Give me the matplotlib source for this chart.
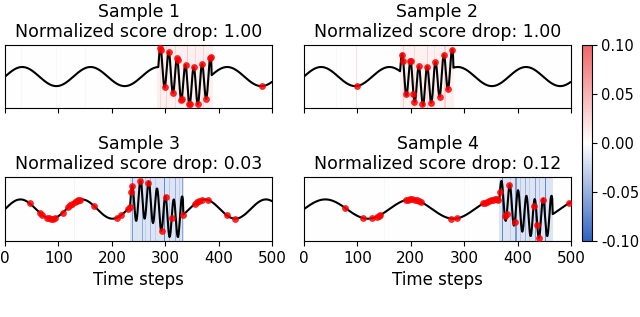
import numpy as np
import matplotlib
matplotlib.use("Agg")
import matplotlib.pyplot as plt
from matplotlib.colors import LinearSegmentedColormap

plt.rcParams['axes.unicode_minus'] = False

# values
n_steps = 500
sample_names = ["Sample 1", "Sample 2", "Sample 3", "Sample 4"]
score_drops = [1.00, 1.00, 0.03, 0.12]

# slow sine of each sample (period in steps) and the fast burst segment
base_periods = [128, 128, 115, 160]
burst_starts = [287, 180, 234, 366]
burst_len = 100
burst_period = 15.6
burst_amp = 2.0

# red dots: time steps that were marked
dots_1 = [291, 292, 299, 307, 314, 322, 323, 330, 331, 338, 345, 346, 353, 361, 369, 377, 384, 385, 481]
dots_2 = [99, 183, 186, 191, 199, 200, 205, 207, 215, 222, 231, 238, 246, 254, 262, 270, 277]
dots_3 = [46, 66, 70, 78, 82, 86, 90, 94, 108, 118, 122, 126, 130, 134, 137, 140, 167, 209, 218,
          231, 234, 236, 238, 253, 268, 293, 301, 312, 334, 356, 360, 364, 368, 381, 415, 431]
dots_4 = [77, 111, 127, 136, 140, 142, 192, 195, 199, 203, 208, 212, 216, 220, 276, 286, 336, 339,
          342, 346, 350, 354, 358, 361, 364, 367, 376, 380, 385, 395, 430, 437, 440, 447, 497]

# attribution stripes behind the curve: (start, end, value)
stripes_1 = [(30, 31, -0.004), (95, 97, 0.006), (150, 152, -0.004), (230, 231, 0.004), (285, 389, 0.01),
             (290, 292, 0.025), (297, 298, 0.02), (301, 303, 0.03), (312, 313, 0.02), (319, 321, 0.025),
             (333, 334, 0.02), (341, 343, 0.035), (350, 351, 0.02), (356, 358, 0.025), (371, 373, 0.03),
             (380, 381, 0.02)]
stripes_2 = [(60, 61, -0.004), (98, 100, 0.018), (140, 141, 0.004), (180, 280, 0.009), (186, 188, 0.03),
             (194, 195, 0.02), (206, 208, 0.025), (217, 218, 0.02), (231, 233, 0.03), (244, 245, 0.02),
             (252, 253, 0.025), (263, 265, 0.03), (273, 274, 0.02)]
stripes_3 = [(89, 90, 0.01), (130, 131, -0.006), (20, 21, -0.004), (234, 335, -0.016), (237, 239, -0.065),
             (245, 246, -0.035), (256, 258, -0.055), (263, 264, -0.03), (272, 274, -0.045), (281, 282, -0.03),
             (297, 300, -0.075), (308, 309, -0.035), (319, 321, -0.05), (326, 327, -0.03), (332, 334, -0.055)]
stripes_4 = [(150, 151, -0.004), (300, 301, -0.004), (366, 467, -0.016), (371, 373, -0.075), (380, 381, -0.035),
             (386, 387, -0.03), (396, 398, -0.065), (405, 406, -0.035), (413, 415, -0.05), (422, 423, -0.03),
             (432, 434, -0.06), (441, 442, -0.035), (451, 453, -0.075), (460, 461, -0.035)]

all_dots = [dots_1, dots_2, dots_3, dots_4]
all_stripes = [stripes_1, stripes_2, stripes_3, stripes_4]

cmap = LinearSegmentedColormap.from_list("attr", ["#2f63bf", "#ffffff", "#f06666"])
ylim = 3.3

fig = plt.figure(figsize=(6.4, 3.17), dpi=100)
boxes = [[0.008, 0.659, 0.417, 0.199],
         [0.475, 0.659, 0.417, 0.199],
         [0.008, 0.240, 0.417, 0.201],
         [0.475, 0.240, 0.417, 0.201]]

t = np.arange(n_steps)
for i in range(4):
    ax = fig.add_axes(boxes[i])
    sig = np.sin(2 * np.pi * t / base_periods[i])
    s = burst_starts[i]
    seg = t[s:s + burst_len]
    sig[s:s + burst_len] += burst_amp * np.sin(2 * np.pi * (seg - s) / burst_period)

    attr = np.zeros(n_steps)
    for a, b, v in all_stripes[i]:
        attr[a:b] = v
    im = ax.imshow(attr[None, :], aspect='auto', cmap=cmap, vmin=-0.1, vmax=0.1,
                   extent=[0, n_steps, -ylim, ylim], interpolation='nearest', zorder=0)

    ax.plot(t, sig, color='black', lw=1.5, zorder=2)
    d = np.array(all_dots[i])
    ax.scatter(d, sig[d], s=24, color='red', alpha=0.85, zorder=3, linewidths=0)

    ax.set_xlim(0, n_steps)
    ax.set_ylim(-ylim, ylim)
    ax.set_yticks([])
    ax.set_xticks([0, 100, 200, 300, 400, 500])
    ax.tick_params(axis='x', labelsize=11)
    if i < 2:
        ax.set_xticklabels([])
    else:
        ax.set_xlabel("Time steps", fontsize=12)
    ax.set_title(sample_names[i] + "\nNormalized score drop: %.2f" % score_drops[i],
                 fontsize=12.5, linespacing=1.1)

cax = fig.add_axes([0.909, 0.240, 0.0156, 0.618])
cb = fig.colorbar(im, cax=cax, ticks=[-0.10, -0.05, 0.0, 0.05, 0.10])
cb.ax.set_yticklabels(["-0.10", "-0.05", "0.00", "0.05", "0.10"])
cb.ax.tick_params(labelsize=10.5)

plt.savefig("out.png", dpi=100)
